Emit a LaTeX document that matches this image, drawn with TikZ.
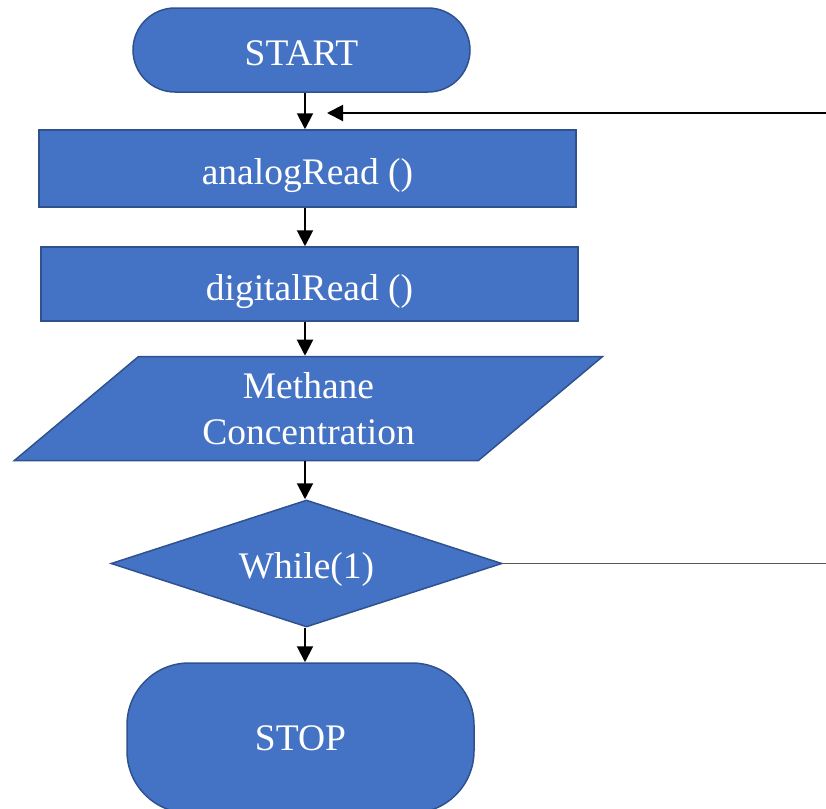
\documentclass[tikz,border=0pt]{standalone}
\usepackage{fontspec}
\setmainfont{Liberation Serif}
\usetikzlibrary{shapes.geometric,arrows.meta}
\definecolor{boxfill}{HTML}{4472C4}
\definecolor{boxline}{HTML}{2F528F}
\definecolor{loopgray}{HTML}{595959}
\begin{document}
\begin{tikzpicture}[x=0.5pt,y=-0.5pt,
  shapebase/.style={fill=boxfill,draw=boxline,line width=0.75pt,text=white,
    font=\fontsize{18.75}{23}\selectfont,inner sep=0pt,align=center},
  terminal/.style={shapebase,rectangle},
  process/.style={shapebase,rectangle},
  iobox/.style={shapebase,trapezium,trapezium stretches=true,
    trapezium left angle=43,trapezium right angle=137},
  decision/.style={shapebase,diamond,aspect=3},
  arr/.style={line width=1pt,-{Triangle[length=8pt,width=8pt]}},
  loopline/.style={line width=0.7pt,draw=loopgray}]
\useasboundingbox (0,0) rectangle (826,809);
\coordinate (col) at (305,0);
\node[terminal,minimum width=168.5pt,minimum height=42pt,rounded corners=21pt,text height=15pt,text depth=0pt] (start) at (301.5,50) {START};
\node[process,minimum width=268.5pt,minimum height=38.5pt,text height=15.5pt,text depth=0pt] (ana) at (307.5,168.5) {analogRead ()};
\node[process,minimum width=268.5pt,minimum height=37pt,text height=16pt,text depth=0pt] (dig) at (309.5,284) {digitalRead ()};
\node[iobox,minimum width=294.5pt,minimum height=52pt] (meth) at (308.5,408.5) {Methane\\Concentration};
\node[decision,minimum width=195.5pt,minimum height=63.5pt,text height=14.5pt,text depth=0pt] (wh) at (306.5,563.5) {While(1)};
\node[terminal,minimum width=173.5pt,minimum height=75pt,rounded corners=31pt] (stop) at (300.5,738) {STOP};
\coordinate (loopA) at (827,561);
\coordinate (loopB) at (827,113);
\coordinate (loopIn) at (327,113);
\draw[arr] (start.south -| col) -- (ana.north -| col);
\draw[arr] (ana.south -| col) -- (dig.north -| col);
\draw[arr] (dig.south -| col) -- (meth.north -| col);
\draw[arr] (meth.south -| col) -- (wh.north -| col);
\draw[arr] (wh.south -| col) -- (stop.north -| col);
\draw[loopline] (wh.east) -- (wh.east -| loopA);
\draw[arr] (loopB) -- (loopIn);
\end{tikzpicture}
\end{document}
